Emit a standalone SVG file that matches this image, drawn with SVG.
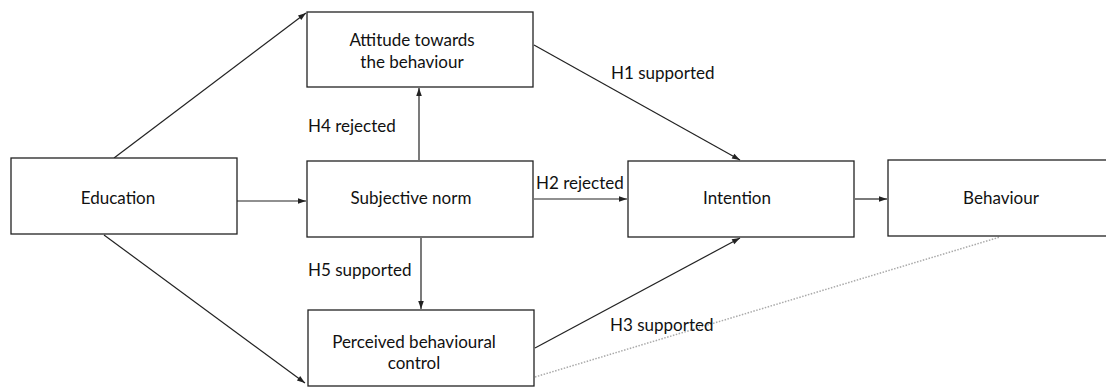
<svg xmlns="http://www.w3.org/2000/svg" width="1106" height="387" viewBox="0 0 1106 387">
<style>
.box{fill:#fff;stroke:#222;stroke-width:1.3}
.t{font-family:Lato,"Liberation Sans",sans-serif;font-size:17px;fill:#111;text-anchor:middle}
.l{font-family:Lato,"Liberation Sans",sans-serif;font-size:17px;fill:#111}
.c{stroke:#222;stroke-width:1.2;fill:none;marker-end:url(#ah)}
.d{stroke:#aaa;stroke-width:1.5;fill:none;stroke-dasharray:1.5 1.5}
</style>
<defs>
<marker id="ah" viewBox="0 0 10 10" refX="10" refY="5" markerWidth="10" markerHeight="8" markerUnits="userSpaceOnUse" orient="auto">
<path d="M0,1.5 L10,5 L0,8.5 z" fill="#222"/>
</marker>
</defs>
<rect width="1106" height="387" fill="#fff"/>
<g id="connectors">
<line class="c" x1="114" y1="158" x2="306" y2="13"/>
<line class="c" x1="237" y1="201" x2="306" y2="201"/>
<line class="c" x1="104" y1="235" x2="305" y2="383"/>
<line class="c" x1="419" y1="160" x2="419" y2="88"/>
<line class="c" x1="421" y1="238" x2="421" y2="309"/>
<line class="c" x1="534" y1="45" x2="740" y2="160"/>
<line class="c" x1="534" y1="199" x2="627" y2="199"/>
<line class="c" x1="855" y1="199" x2="887" y2="199"/>
<line class="c" x1="535" y1="348" x2="740" y2="238"/>
<line class="d" x1="535" y1="377" x2="1000" y2="237"/>
</g>
<g id="labels">
<text class="l" x="308" y="132">H4 rejected</text>
<text class="l" x="611" y="79">H1 supported</text>
<text class="l" x="536" y="189">H2 rejected</text>
<text class="l" x="308" y="276">H5 supported</text>
<text class="l" x="610" y="331">H3 supported</text>
</g>
<g id="attitude"><rect class="box" x="307" y="12" width="226" height="75"/><text class="t" x="412" y="46">Attitude towards</text><text class="t" x="412" y="68">the behaviour</text></g>
<g id="education"><rect class="box" x="11" y="158" width="226" height="76"/><text class="t" x="118" y="204">Education</text></g>
<g id="subjective"><rect class="box" x="307" y="161" width="226" height="76"/><text class="t" x="411" y="204">Subjective norm</text></g>
<g id="perceived"><rect class="box" x="308" y="310" width="226" height="76"/><text class="t" x="414" y="348">Perceived behavioural</text><text class="t" x="414" y="369">control</text></g>
<g id="intention"><rect class="box" x="628" y="161" width="226" height="76"/><text class="t" x="737" y="204">Intention</text></g>
<g id="behaviour"><rect class="box" x="888" y="160" width="220" height="76"/><text class="t" x="1001" y="204">Behaviour</text></g>
</svg>
